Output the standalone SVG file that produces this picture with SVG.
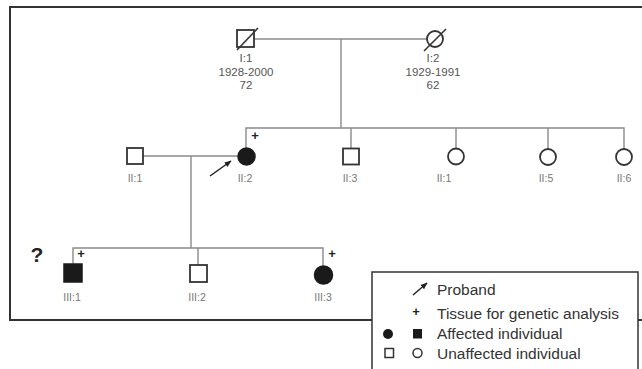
<svg xmlns="http://www.w3.org/2000/svg" width="642" height="369" viewBox="0 0 642 369">
<style>
.conn{stroke:#8a8a8a;stroke-width:1.4;fill:none}
.sym{stroke:#333;stroke-width:1.8;fill:#fff}
.aff{stroke:#1a1a1a;stroke-width:1.5;fill:#1a1a1a}
.slash{stroke:#333;stroke-width:1.6}
.lbl{font-family:"Liberation Sans",Arial,sans-serif;font-size:10.5px;fill:#777;text-anchor:middle}
.info{font-family:"Liberation Sans",Arial,sans-serif;font-size:11.5px;fill:#555;text-anchor:middle}
.plus{font-family:"Liberation Sans",Arial,sans-serif;font-size:13px;font-weight:bold;fill:#222;text-anchor:middle}
.leg{font-family:"Liberation Sans",Arial,sans-serif;font-size:15.5px;fill:#333}
.frame{stroke:#333;stroke-width:2;fill:none}
</style>
<defs>
<marker id="ah" viewBox="0 0 10 10" refX="9" refY="5" markerWidth="7" markerHeight="7" orient="auto" markerUnits="userSpaceOnUse">
<path d="M0,1 L10,5 L0,9 z" fill="#222"/>
</marker>
</defs>
<rect width="642" height="369" fill="#fff"/>
<g id="frame">
<path class="frame" d="M644,7 H10 V320 H372"/>
<path class="frame" d="M638,320 H644"/>
</g>
<g id="connectors">
<path class="conn" d="M254,39 H427"/>
<path class="conn" d="M341,39 V128"/>
<path class="conn" d="M246,148 V128 H624 V149"/>
<path class="conn" d="M351,128 V148.5"/>
<path class="conn" d="M456,128 V148.5"/>
<path class="conn" d="M548,128 V149"/>
<path class="conn" d="M143,156 H238"/>
<path class="conn" d="M191,156 V248"/>
<path class="conn" d="M73,264 V248 H323 V266"/>
<path class="conn" d="M198,248 V265"/>
</g>
<g id="I1">
<rect class="sym" x="237" y="30" width="17" height="17"/>
<line class="slash" x1="237" y1="50" x2="258" y2="28"/>
<text class="info" x="246" y="62">I:1</text>
<text class="info" x="246" y="76">1928-2000</text>
<text class="info" x="246" y="89">72</text>
</g>
<g id="I2">
<circle class="sym" cx="435" cy="39" r="8"/>
<line class="slash" x1="424" y1="51" x2="446" y2="29"/>
<text class="info" x="433" y="62">I:2</text>
<text class="info" x="433" y="76">1929-1991</text>
<text class="info" x="433" y="89">62</text>
</g>
<g id="II1m">
<rect class="sym" x="127" y="148" width="16" height="16"/>
<text class="lbl" x="135" y="182">II:1</text>
</g>
<g id="II2">
<circle class="aff" cx="246.5" cy="156.5" r="8.5"/>
<text class="plus" x="255" y="139.5">+</text>
<text class="lbl" x="245" y="182">II:2</text>
<line x1="210" y1="176" x2="231" y2="161" stroke="#222" stroke-width="1.5" marker-end="url(#ah)"/>
</g>
<g id="II3">
<rect class="sym" x="343" y="148.5" width="16" height="16"/>
<text class="lbl" x="350" y="182">II:3</text>
</g>
<g id="II1f">
<circle class="sym" cx="456" cy="156.5" r="8"/>
<text class="lbl" x="444" y="182">II:1</text>
</g>
<g id="II5">
<circle class="sym" cx="548" cy="157" r="8"/>
<text class="lbl" x="546" y="182">II:5</text>
</g>
<g id="II6">
<circle class="sym" cx="624" cy="157" r="8"/>
<text class="lbl" x="624" y="182">II:6</text>
</g>
<g id="III1">
<text x="37" y="262" font-family="Liberation Sans,Arial,sans-serif" font-size="21" font-weight="bold" fill="#222" text-anchor="middle">?</text>
<rect class="aff" x="64" y="264" width="18" height="18"/>
<text class="plus" x="81" y="257.5">+</text>
<text class="lbl" x="72" y="301">III:1</text>
</g>
<g id="III2">
<rect class="sym" x="190" y="265" width="17" height="17"/>
<text class="lbl" x="197" y="301">III:2</text>
</g>
<g id="III3">
<circle class="aff" cx="323.5" cy="275" r="9"/>
<text class="plus" x="332" y="257.5">+</text>
<text class="lbl" x="323" y="301">III:3</text>
</g>
<g id="legend">
<rect x="372" y="272" width="266" height="110" fill="#fff" stroke="#333" stroke-width="1.5"/>
<line x1="413" y1="295" x2="427" y2="283" stroke="#222" stroke-width="1.5" marker-end="url(#ah)"/>
<text class="leg" x="437" y="295">Proband</text>
<text class="plus" x="416" y="315.5">+</text>
<text class="leg" x="437" y="319">Tissue for genetic analysis</text>
<circle cx="388" cy="334" r="5" fill="#1a1a1a"/>
<rect x="413" y="329" width="9" height="9.5" fill="#1a1a1a"/>
<text class="leg" x="437" y="339">Affected individual</text>
<rect x="385" y="348.5" width="8.5" height="9" fill="#fff" stroke="#333" stroke-width="1.5"/>
<circle cx="417.5" cy="353" r="4.5" fill="#fff" stroke="#333" stroke-width="1.5"/>
<text class="leg" x="437" y="359">Unaffected individual</text>
</g>
</svg>
